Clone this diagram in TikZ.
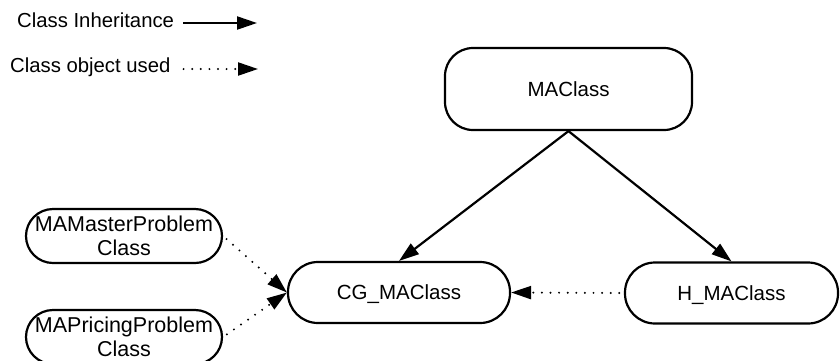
\documentclass[tikz,border=0pt]{standalone}
\usepackage{fontspec}
\setmainfont{Liberation Sans}
\usetikzlibrary{arrows.meta}
\begin{document}
\begin{tikzpicture}[x=1pt,y=-1pt,
  box/.style={draw, line width=2.2pt, rectangle, inner sep=0pt,
    font=\fontsize{20.5}{24}\selectfont, text height=14.7pt, text depth=0pt},
  twoline/.style={draw, line width=2.2pt, rectangle, inner sep=0pt, align=center,
    font=\fontsize{21.5}{24}\selectfont},
  inh/.style={line width=2.2pt, -{Triangle[length=20pt,width=13pt]}},
  use/.style={line width=2.2pt, dash pattern=on 0pt off 8.6pt, dash phase=4pt,
    line cap=round, -{Triangle[length=20pt,width=13pt]}},
  legend/.style={anchor=base west, inner sep=0pt, font=\fontsize{20.3}{24}\selectfont}
]
\useasboundingbox (0,0) rectangle (840,360);

% legend
\node[legend] (leg1) at (17,27) {Class Inheritance};
\node[legend] (leg2) at (10,72) {Class object used};
\coordinate (l1s) at (183,23);
\coordinate (l1e) at (257,23);
\coordinate (l2s) at (179,69);
\coordinate (l2e) at (258,69);
\draw[inh] (l1s) -- (l1e);
\draw[use] (l2s) -- (l2e);

% nodes
\node[box, minimum width=247pt, minimum height=82pt, rounded corners=28pt] (ma) at (568.5,89) {MAClass};
\node[box, minimum width=222pt, minimum height=61pt, rounded corners=30pt] (cg) at (399,292.5) {CG\_MAClass};
\node[box, minimum width=213pt, minimum height=61pt, rounded corners=30pt] (h) at (731.5,293) {H\_MAClass};
\node[twoline, minimum width=196pt, minimum height=54pt, rounded corners=27pt] (mp) at (124,236) {MAMasterProblem\\Class};
\node[twoline, minimum width=196pt, minimum height=54pt, rounded corners=27pt] (pp) at (124,337) {MAPricingProblem\\Class};

% connectors
\draw[inh] (ma.south) -- (cg.north);
\draw[inh] (ma.south) -- (h.north);
\draw[use] (h.west) -- (cg.east);
\draw[use] (mp.east) -- (cg.west);
\draw[use] (pp.east) -- (cg.west);
\end{tikzpicture}
\end{document}
